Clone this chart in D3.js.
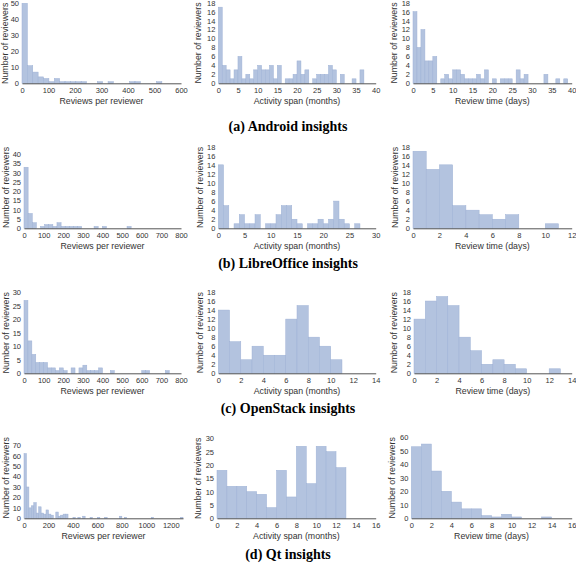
<!DOCTYPE html>
<html><head><meta charset="utf-8">
<script src="https://cdn.jsdelivr.net/npm/d3@7"></script>
<style>body{margin:0;background:#fff}</style></head><body>
<script>
// ---------- data (histogram bin counts) ----------
const androidReviewsBin = 20.3;
const androidReviews = [50,11,7,4,3,1,3,1,1,1,1,1,0,0,1,0,1,0,0,0,1,1,0,0,0,1];
const androidActivityBin = 1;
const androidActivity = [17,4,3,1,3,6,1,2,1,3,4,3,3,4,1,4,0,1,1,2,5,2,3,0,1,2,2,2,4,3,0,2,0,0,1,0,3];
const androidTimeBin = 1;
const androidTime = [16,8,12,5,5,6,0,1,2,1,3,3,2,1,1,1,2,1,3,0,1,0,1,1,1,0,3,1,2,0,0,0,0,2,0,0,1,0,1];

const libreReviewsBin = 21;
const libreReviews = [33,8,3,0,1,2,2,1,3,1,1,1,1,1,0,0,0,1,0,1,0,0,0,0,0,1];
const libreActivityBin = 1;
const libreActivity = [14,5,0,1,3,1,1,3,0,1,1,3,5,5,2,1,0,1,1,2,1,2,6,2,1,0,1];
const libreTimeBin = 1;
const libreTime = [17,13,14,5,4,3,2,3,0,0,1];

const openstackReviewsBin = 20;
const openstackReviews = [27,12,7,4,4,4,2,2,1,2,1,0,2,0,2,3,1,1,1,2,0,0,1,0,0,0,0,0,0,0,1,1,0,0,0,0,1];
const openstackActivityBin = 1;
const openstackActivity = [14,7,3,6,4,4,12,15,8,6,3];
const openstackTimeBin = 1;
const openstackTime = [12,16,17,15,8,5,2,3,2,1,0,0,1];

const qtReviewsBin = 20;
const qtReviews = [62,30,10,12,15,5,11,5,4,8,4,3,0,6,2,3,4,4,0,0,1,0,1,0,2,0,0,1,0,0,1,0,0,1,0,0,0,0,0,2,0,1,0,0,0,0,0,0,0,0,0,0,1,0,0,0,0,0,0,0,0,0,0,0,1];
const qtActivityBin = 1;
const qtActivity = [18,12,12,10,9,4,18,8,27,13,27,25,19];
const qtTimeBin = 1;
const qtTime = [53,55,35,20,12,7,7,2,1,3,1,0,0,1];

// ---------- tick labels ----------
const ticksReviews600 = [0,100,200,300,400,500,600];
const ticksReviews800 = [0,100,200,300,400,500,600,700,800];
const ticksReviews1200 = [0,200,400,600,800,1000,1200];
const ticks40by5 = [0,5,10,15,20,25,30,35,40];
const ticks30by5 = [0,5,10,15,20,25,30];
const ticks12by2 = [0,2,4,6,8,10,12];
const ticks14by2 = [0,2,4,6,8,10,12,14];
const ticks16by2 = [0,2,4,6,8,10,12,14,16];
const ticksY50 = [0,10,20,30,40,50];
const ticksY18 = [0,2,4,6,8,10,12,14,16,18];
const ticksY40 = [0,5,10,15,20,25,30,35,40];
const ticksY30 = [0,5,10,15,20,25,30];
const ticksY70 = [0,10,20,30,40,50,60,70];
const ticksY60 = [0,10,20,30,40,50,60];

const xLabels = ["Reviews per reviewer","Activity span (months)","Review time (days)"];
const yLabel = "Number of reviewers";
const captions = ["(a) Android insights","(b) LibreOffice insights","(c) OpenStack insights","(d) Qt insights"];

// ---------- layout ----------
const panels = [
  {d:androidReviews,w:androidReviewsBin,xd:[0,600],xt:ticksReviews600,yd:[0,50],yt:ticksY50,xr:[22,181],yr:[83.3,3.3],col:0,ylx:4.8},
  {d:androidActivity,w:androidActivityBin,xd:[0,40],xt:ticks40by5,yd:[0,18],yt:ticksY18,xr:[218.3,375.7],yr:[83.3,2.7],col:1,ylx:197.5},
  {d:androidTime,w:androidTimeBin,xd:[0,40],xt:ticks40by5,yd:[0,18],yt:ticksY18,xr:[413,571.7],yr:[83.3,2.7],col:2,ylx:394},
  {d:libreReviews,w:libreReviewsBin,xd:[0,800],xt:ticksReviews800,yd:[0,44.1],yt:ticksY40,xr:[24,181],yr:[228.3,146.7],col:0,ylx:5.5},
  {d:libreActivity,w:libreActivityBin,xd:[0,30],xt:ticks30by5,yd:[0,18],yt:ticksY18,xr:[218.3,375.7],yr:[228.3,146.7],col:1,ylx:200},
  {d:libreTime,w:libreTimeBin,xd:[0,12],xt:ticks12by2,yd:[0,18],yt:ticksY18,xr:[413,571.7],yr:[228.3,146.7],col:2,ylx:394.5},
  {d:openstackReviews,w:openstackReviewsBin,xd:[0,800],xt:ticksReviews800,yd:[0,30],yt:ticksY30,xr:[24,181],yr:[373.3,292.3],col:0,ylx:6},
  {d:openstackActivity,w:openstackActivityBin,xd:[0,14],xt:ticks14by2,yd:[0,18],yt:ticksY18,xr:[218.3,375.7],yr:[373.3,292],col:1,ylx:199.5},
  {d:openstackTime,w:openstackTimeBin,xd:[0,14],xt:ticks14by2,yd:[0,18],yt:ticksY18,xr:[414,571.7],yr:[373.3,292],col:2,ylx:394},
  {d:qtReviews,w:qtReviewsBin,xd:[0,1300],xt:ticksReviews1200,yd:[0,77.6],yt:ticksY70,xr:[24,183],yr:[518.3,437.3],col:0,ylx:6},
  {d:qtActivity,w:qtActivityBin,xd:[0,16],xt:ticks16by2,yd:[0,30],yt:ticksY30,xr:[217,375.7],yr:[518.3,438.3],col:1,ylx:198},
  {d:qtTime,w:qtTimeBin,xd:[0,16],xt:ticks16by2,yd:[0,60],yt:ticksY60,xr:[411.3,571.7],yr:[518.3,437.3],col:2,ylx:392}
];
const captionY = [131,268,413,559];

const svg = d3.select("body").append("svg").attr("width",576).attr("height",564)
  .style("font-family","'Liberation Sans', Arial, sans-serif");

panels.forEach(p => {
  const x = d3.scaleLinear().domain(p.xd).range(p.xr);
  const y = d3.scaleLinear().domain(p.yd).range(p.yr);
  const g = svg.append("g");
  const bins = p.d.map((v,i)=>({x0:i*p.w,x1:(i+1)*p.w,v:v})).filter(b=>b.v>0);
  g.selectAll("rect").data(bins).enter().append("rect")
    .attr("x",b=>x(b.x0)).attr("width",b=>x(b.x1)-x(b.x0))
    .attr("y",b=>y(b.v)).attr("height",b=>y(0)-y(b.v))
    .attr("fill","#b3c3df").attr("stroke","#9eb1d5").attr("stroke-width",0.5);
  const xa = g.append("g").attr("transform",`translate(0,${y(0)})`)
    .call(d3.axisBottom(x).tickValues(p.xt).tickSize(0).tickPadding(4).tickFormat(d3.format("d")));
  xa.select(".domain").attr("stroke","#555").attr("stroke-width",1);
  xa.selectAll("text").attr("font-size",7.5).attr("fill","#333").attr("font-family","'Liberation Sans', Arial, sans-serif");
  const ya = g.append("g").attr("transform",`translate(${p.xr[0]},0)`)
    .call(d3.axisLeft(y).tickValues(p.yt).tickSize(0).tickPadding(3).tickFormat(d3.format("d")));
  ya.select(".domain").remove();
  ya.selectAll("text").attr("font-size",7.5).attr("fill","#333").attr("font-family","'Liberation Sans', Arial, sans-serif");
  g.append("text").attr("x",(p.xr[0]+p.xr[1])/2).attr("y",p.yr[0]+21)
    .attr("text-anchor","middle").attr("font-size",8.8).attr("fill","#333")
    .text(xLabels[p.col]);
  const cy = (p.yr[0]+p.yr[1])/2;
  g.append("text").attr("transform",`translate(${p.ylx},${cy}) rotate(-90)`)
    .attr("dy","0.35em").attr("text-anchor","middle").attr("font-size",8.8).attr("fill","#333")
    .text(yLabel);
});

svg.selectAll("text.cap").data(captions).enter().append("text").attr("class","cap")
  .attr("x",288).attr("y",(d,i)=>captionY[i]).attr("text-anchor","middle")
  .attr("font-family","'Liberation Serif', 'Times New Roman', serif").attr("font-weight","bold")
  .attr("font-size",14).attr("fill","#000").text(d=>d);
</script>
</body></html>
